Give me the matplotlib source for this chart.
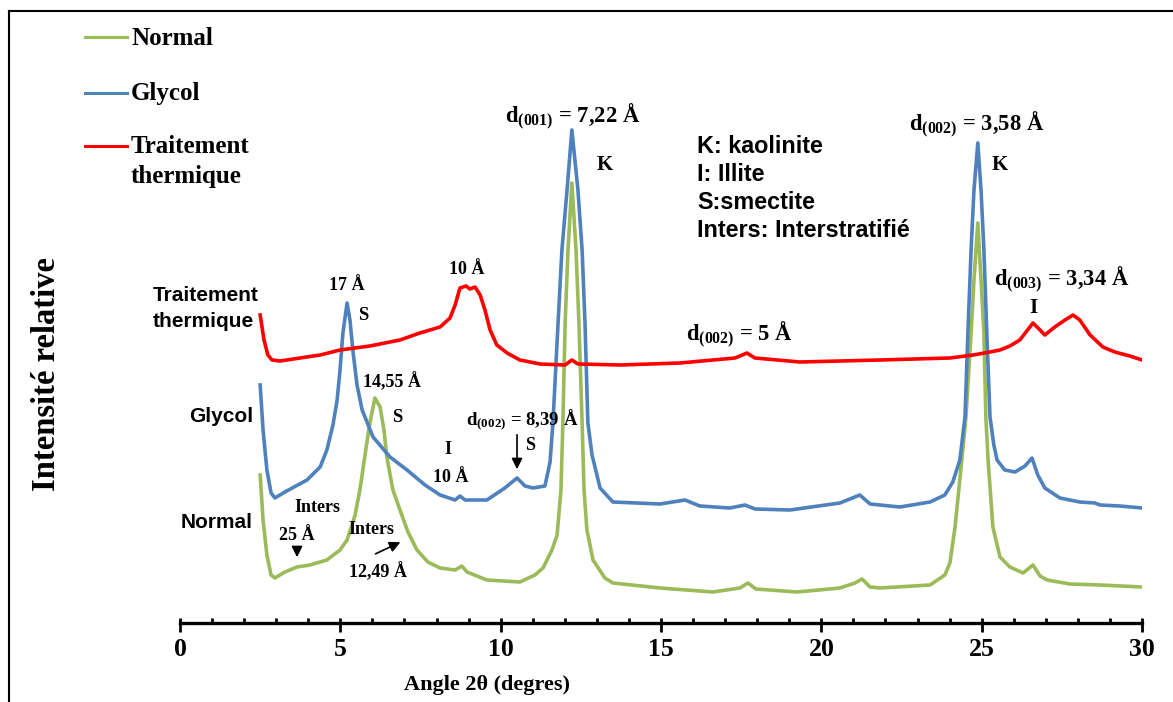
import matplotlib.pyplot as plt
from matplotlib.lines import Line2D
from matplotlib.ticker import MultipleLocator

plt.rcParams['font.family'] = 'Liberation Serif'
plt.rcParams['font.weight'] = 'bold'
plt.rcParams['axes.labelweight'] = 'bold'
plt.rcParams['mathtext.fontset'] = 'custom'
plt.rcParams['mathtext.rm'] = 'Liberation Serif:bold'
plt.rcParams['mathtext.it'] = 'Liberation Serif:bold'
plt.rcParams['mathtext.bf'] = 'Liberation Serif:bold'

# diffractogrammes : angle 2theta (degres), intensite relative
normal_x = [2.5, 2.59, 2.71, 2.84, 2.96, 3.27, 3.65, 4.05, 4.58, 4.99, 5.21, 5.46, 5.61, 5.77, 5.92,
            6.08, 6.24, 6.36, 6.45, 6.64, 6.86, 7.11, 7.39, 7.73, 8.11, 8.58, 8.79, 8.95, 9.57, 10.6,
            11.07, 11.32, 11.6, 11.76, 11.88, 11.94, 12.01, 12.1, 12.22, 12.35, 12.44, 12.54, 12.6,
            12.69, 12.88, 13.25, 13.5, 14.97, 16.62, 17.46, 17.71, 17.96, 19.24, 20.58, 21.05, 21.27,
            21.52, 21.83, 23.39, 23.85, 24.01, 24.17, 24.38, 24.51, 24.67, 24.76, 24.88, 24.98, 25.07,
            25.13, 25.2, 25.35, 25.57, 25.88, 26.29, 26.6, 26.82, 27.04, 27.75, 28.69, 30.0]
normal_y = [148, 103, 68, 48, 45, 51, 56, 58, 63, 73, 83, 108, 133, 168, 200,
            225, 216, 193, 166, 133, 113, 91, 73, 61, 55, 53, 57, 51, 43, 41,
            48, 55, 73, 88, 133, 200, 300, 373, 440, 373, 300, 200, 133,
            93, 63, 45, 40, 35, 31, 35, 40, 34, 31, 35, 40, 44,
            36, 35, 38, 48, 60, 96, 163, 206, 290, 343, 400, 343, 290,
            206, 163, 96, 66, 56, 50, 58, 47, 43, 39, 38, 36]

glycol_x = [2.5, 2.59, 2.71, 2.84, 2.96, 3.27, 3.96, 4.37, 4.58, 4.77, 4.9, 4.99, 5.08, 5.21, 5.3,
            5.39, 5.52, 5.68, 6.02, 6.55, 7.08, 7.64, 8.11, 8.58, 8.73, 8.89, 9.57, 10.13, 10.51,
            10.76, 11.01, 11.38, 11.54, 11.63, 11.79, 11.91, 12.07, 12.22, 12.41, 12.54, 12.63,
            12.72, 12.85, 13.1, 13.5, 14.97, 15.75, 16.21, 17.15, 17.62, 17.93, 19.02, 20.58, 21.2,
            21.52, 22.45, 23.39, 23.85, 24.1, 24.32, 24.48, 24.57, 24.67, 24.76, 24.88, 24.98,
            25.07, 25.16, 25.26, 25.38, 25.48, 25.72, 26.04, 26.35, 26.57, 26.75, 26.97, 27.44,
            28.06, 28.53, 28.69, 29.31, 30.0]
glycol_y = [238, 193, 153, 130, 125, 131, 143, 156, 173, 198, 223, 253, 290, 320, 303,
            273, 238, 213, 186, 166, 153, 138, 128, 123, 127, 123, 123, 135, 145,
            137, 135, 137, 161, 200, 300, 373, 433, 493, 433, 373, 300,
            200, 168, 135, 121, 119, 123, 117, 115, 118, 114, 113, 120, 128,
            119, 116, 121, 128, 141, 163, 206, 290, 373, 433, 480, 433,
            373, 290, 206, 178, 163, 153, 151, 157, 165, 148, 135, 125,
            121, 120, 118, 117, 115]

thermique_x = [2.5, 2.62, 2.74, 2.87, 3.12, 3.74, 4.37, 4.99, 5.92, 6.86, 7.48, 8.11, 8.42, 8.58,
               8.73, 8.92, 9.04, 9.2, 9.36, 9.51, 9.67, 9.88, 10.2, 10.6, 11.23, 12.01, 12.22, 12.41,
               13.72, 15.59, 17.31, 17.68, 17.93, 19.33, 21.83, 24.01, 24.73, 25.26, 25.57, 25.88,
               26.19, 26.6, 26.82, 26.97, 27.28, 27.6, 27.85, 28.06, 28.38, 28.78, 29.15, 29.62, 30.0]
thermique_y = [308, 283, 268, 263, 262, 265, 268, 273, 277, 283, 290, 296, 305, 318,
               335, 337, 334, 336, 328, 313, 293, 278, 270, 263, 259, 258, 263, 259,
               258, 260, 265, 270, 265, 261, 263, 265, 268, 271, 273, 277,
               283, 300, 293, 288, 296, 303, 308, 303, 288, 276, 271, 267, 263]

series_names = ['Normal', 'Glycol', 'Traitement\nthermique']
series_colors = ['#9BBB59', '#4F81BD', '#FF0000']
key_lines = ['K: kaolinite', 'I: Illite', 'S:smectite', 'Inters: Interstratifié']

W, H = 1173, 702


def fx(px):
    return px / W


def fy(py):
    return 1 - py / H


fig = plt.figure(figsize=(W / 100, H / 100), dpi=100)
ax = fig.add_axes([fx(180), fy(623), 962 / W, 612 / H])

for xs, ys, c in zip([normal_x, glycol_x, thermique_x], [normal_y, glycol_y, thermique_y], series_colors):
    ax.plot(xs, ys, color=c, lw=2.6, solid_joinstyle='round')

ax.set_xlim(0, 30)
ax.set_ylim(0, 612)
ax.set_yticks([])
for s in ['top', 'right', 'left']:
    ax.spines[s].set_visible(False)
ax.spines['bottom'].set_linewidth(2.4)
ax.xaxis.set_major_locator(MultipleLocator(5))
ax.xaxis.set_minor_locator(MultipleLocator(1))
ax.xaxis.remove_overlapping_locs = False
ax.tick_params(axis='x', which='major', direction='out', length=6.5, width=2, labelsize=18.5, pad=4)
ax.tick_params(axis='x', which='minor', direction='in', length=3.6, width=2)

ax.set_xlabel('Angle 2θ (degres)', fontsize=16, fontweight='bold')
ax.xaxis.set_label_coords(0.319, -0.085)
ax.set_ylabel('Intensité relative', fontsize=23.5, fontweight='bold')
ax.yaxis.set_label_coords(-0.1227, 0.407)

# annotations des pics
serif_notes = [
    (r'd$_{(001)}$ = 7,22 Å', 12.25, 506, 16.3),
    ('K', 13.25, 458, 15),
    (r'd$_{(002)}$ = 3,58 Å', 24.85, 498, 16.3),
    ('K', 25.57, 458, 15),
    ('10 Å', 8.95, 353, 13),
    ('17 Å', 5.21, 338, 13),
    ('S', 5.71, 308, 13.5),
    ('14,55 Å', 6.61, 241, 13),
    ('S', 6.77, 205, 13.5),
    (r'd$_{(002)}$ = 5 Å', 17.46, 288, 16.3),
    (r'd$_{(003)}$ = 3,34 Å', 27.5, 343, 16.3),
    ('I', 26.6, 315, 15),
    ('I', 8.36, 173, 13),
    ('10 Å', 8.45, 145, 13),
    (r'd$_{(002)}$ = 8,39 Å', 10.66, 203, 13.5),
    ('S', 10.91, 178, 13),
    ('Inters', 4.3, 116, 13),
    ('25 Å', 3.65, 87, 13),
    ('Inters', 5.96, 94, 13),
    ('12,49 Å', 6.17, 51, 13),
]
for txt, x, y, fs in serif_notes:
    ax.text(x, y, txt, fontsize=fs, ha='center', va='center')

arrow = dict(arrowstyle='-|>', color='black', lw=1.2, mutation_scale=16)
ax.annotate('', xy=(10.51, 151), xytext=(10.51, 191), arrowprops=arrow)
ax.annotate('', xy=(3.65, 63), xytext=(3.65, 78), arrowprops=arrow)
ax.annotate('', xy=(6.95, 82), xytext=(6.02, 68), arrowprops=arrow)

# noms des courbes et clé des minéraux (la ligne de base donnée est celle de la dernière ligne)
sans = dict(family='Liberation Sans', weight='bold')
ax.text(-0.84, 296, series_names[2], fontsize=15, ha='left', va='baseline', linespacing=1.45, **sans)
ax.text(2.28, 201, series_names[1], fontsize=15, ha='right', va='baseline', **sans)
ax.text(2.28, 95, series_names[0], fontsize=15, ha='right', va='baseline', **sans)
for i, line in enumerate(key_lines):
    ax.text(16.12, 470 - 28 * i, line, fontsize=16.8, ha='left', va='baseline', **sans)

# légende
for name, c, ly, by in zip(series_names, series_colors, [37, 93, 146], [45, 100, 183]):
    fig.add_artist(Line2D([fx(85), fx(127)], [fy(ly), fy(ly)], color=c, lw=2.2, transform=fig.transFigure))
    fig.text(fx(131), fy(by), name, fontsize=18, ha='left', va='baseline', linespacing=1.4)

# cadre
fig.add_artist(Line2D([fx(9), fx(9)], [0, fy(11)], color='black', lw=1.5, transform=fig.transFigure))
fig.add_artist(Line2D([fx(9), 1], [fy(11), fy(11)], color='black', lw=1.5, transform=fig.transFigure))

fig.savefig('out.png', dpi=100)
